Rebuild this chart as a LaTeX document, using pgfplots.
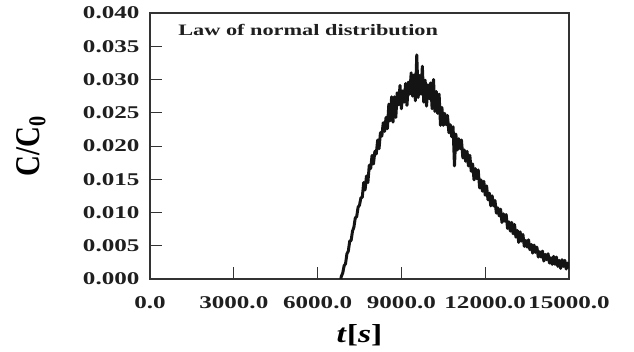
\documentclass[border=0pt]{standalone}
\usepackage{fontspec}
\setmainfont{Liberation Serif}
\usepackage{pgfplots}
\pgfplotsset{compat=1.18}
\usepackage{pgfplotstable}
\usepackage{graphicx}
\newcommand\sx[1]{\scalebox{1.4}[1]{#1}}
\pgfplotstableread{
t c
6830 0.0000
6850 0.0004
6900 0.0009
6950 0.0020
7000 0.0023
7050 0.0038
7100 0.0042
7150 0.0057
7200 0.0058
7250 0.0072
7300 0.0078
7350 0.0092
7400 0.0094
7450 0.0108
7500 0.0111
7550 0.0122
7600 0.0123
7650 0.0145
7700 0.0134
7750 0.0155
7800 0.0145
7850 0.0171
7900 0.0166
7950 0.0186
8000 0.0173
8050 0.0192
8100 0.0188
8150 0.0209
8200 0.0196
8250 0.0220
8300 0.0215
8350 0.0235
8400 0.0222
8450 0.0243
8500 0.0226
8550 0.0263
8600 0.0238
8650 0.0274
8700 0.0236
8750 0.0274
8800 0.0243
8850 0.0280
8900 0.0262
8950 0.0291
9000 0.0256
9050 0.0283
9100 0.0266
9150 0.0294
9200 0.0261
9250 0.0296
9300 0.0278
9350 0.0310
9400 0.0275
9450 0.0307
9500 0.0268
9550 0.0337
9600 0.0273
9650 0.0306
9700 0.0278
9750 0.0320
9800 0.0266
9850 0.0299
9900 0.0260
9950 0.0292
10000 0.0271
10050 0.0295
10100 0.0256
10150 0.0300
10200 0.0252
10250 0.0282
10300 0.0249
10350 0.0278
10400 0.0231
10450 0.0258
10500 0.0231
10550 0.0249
10600 0.0232
10650 0.0246
10700 0.0220
10750 0.0232
10800 0.0214
10850 0.0229
10900 0.0170
10950 0.0218
11000 0.0194
11050 0.0211
11100 0.0196
11150 0.0209
11200 0.0182
11250 0.0194
11300 0.0177
11350 0.0192
11400 0.0170
11450 0.0186
11500 0.0162
11550 0.0173
11600 0.0149
11650 0.0166
11700 0.0151
11750 0.0164
11800 0.0137
11850 0.0149
11900 0.0132
11950 0.0147
12000 0.0126
12050 0.0140
12100 0.0119
12150 0.0129
12200 0.0110
12250 0.0125
12300 0.0110
12350 0.0118
12400 0.0099
12450 0.0107
12500 0.0095
12550 0.0105
12600 0.0085
12650 0.0098
12700 0.0087
12750 0.0097
12800 0.0076
12850 0.0086
12900 0.0072
12950 0.0085
13000 0.0068
13050 0.0082
13100 0.0063
13150 0.0073
13200 0.0055
13250 0.0071
13300 0.0057
13350 0.0067
13400 0.0049
13450 0.0058
13500 0.0048
13550 0.0059
13600 0.0044
13650 0.0052
13700 0.0039
13750 0.0051
13800 0.0040
13850 0.0048
13900 0.0033
13950 0.0041
14000 0.0033
14050 0.0042
14100 0.0027
14150 0.0037
14200 0.0029
14250 0.0038
14300 0.0024
14350 0.0032
14400 0.0022
14450 0.0034
14500 0.0022
14550 0.0033
14600 0.0019
14650 0.0028
14700 0.0016
14750 0.0029
14800 0.0019
14850 0.0028
14900 0.0015
14950 0.0024
15000 0.0016
}\curve
\begin{document}
\begin{tikzpicture}
\begin{axis}[
  scale only axis,
  width=419bp, height=266bp,
  xmin=0, xmax=15000, ymin=0, ymax=0.040,
  axis line style={black!80, line width=1.2pt},
  xtick={0,3000,6000,9000,12000,15000},
  xticklabels={\sx{0.0},\sx{3000.0},\sx{6000.0},\sx{9000.0},\sx{12000.0},\sx{15000.0}},
  ytick={0,0.005,0.010,0.015,0.020,0.025,0.030,0.035,0.040},
  yticklabels={\sx{0.000},\sx{0.005},\sx{0.010},\sx{0.015},\sx{0.020},\sx{0.025},\sx{0.030},\sx{0.035},\sx{0.040}},
  xtick pos=bottom, ytick pos=left,
  tick align=inside,
  major tick length=12bp,
  tick style={black!80, line width=1pt},
  scaled ticks=false,
  ticklabel style={font=\bfseries\fontsize{18}{18}\selectfont, text=black!88},
  xticklabel shift=14bp,
  yticklabel shift=7bp,
  xlabel={\scalebox{1.3}[1]{\bfseries\fontsize{26}{26}\selectfont\textit{t}[\textit{s}]}},
  xlabel style={at={(axis description cs:0.5,-0.21)}, anchor=center},
  ylabel={\scalebox{1}[1.2]{\bfseries\fontsize{29}{29}\selectfont C/C$_{\mathbf 0}$}},
  ylabel style={at={(axis description cs:-0.284,0.5)}, anchor=center, rotate=0},
  clip=true,
]
\addplot[black!92, line width=3pt, line join=round] table[x=t, y=c] {\curve};
\node[anchor=base west, inner sep=0pt, font=\bfseries\fontsize{16}{16}\selectfont, text=black!88] at (rel axis cs:0.067,0.917) {\sx{Law of normal distribution}};
\coordinate (bl) at (rel axis cs:0,0);
\end{axis}
\useasboundingbox ([shift={(-150bp,-73bp)}]bl) rectangle ([shift={(484bp,279bp)}]bl);
\end{tikzpicture}
\end{document}
